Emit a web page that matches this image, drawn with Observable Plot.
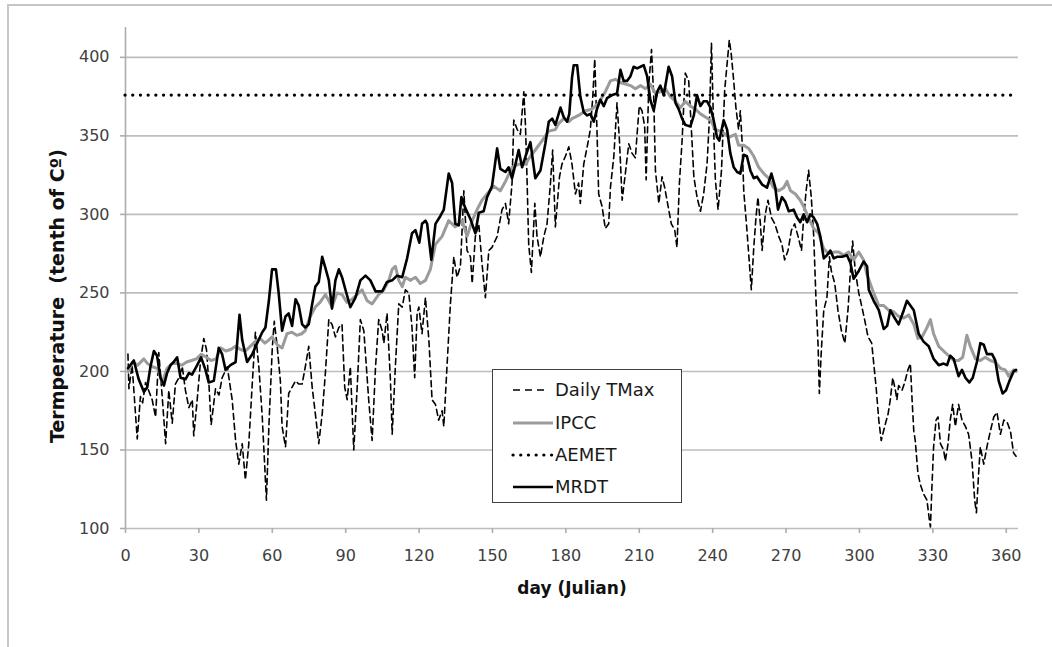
<!DOCTYPE html>
<html>
<head>
<meta charset="utf-8">
<script src="https://cdn.jsdelivr.net/npm/d3@7"></script>
<script src="https://cdn.jsdelivr.net/npm/@observablehq/plot@0.6"></script>
<style>
  body { margin: 0; background: #fff; }
  #wrap { position: relative; width: 1052px; height: 647px; overflow: hidden; background: #fff; font-family: "DejaVu Sans", sans-serif; }
  #frame { position: absolute; left: 7px; top: 4px; width: 1100px; height: 700px; border: 2px solid #c6c6c6; }
  #chart { position: absolute; left: 0; top: 0; }
  #legend { position: absolute; left: 492px; top: 369px; width: 188px; height: 132px; border: 1.5px solid #404040; background: #fff; }
</style>
</head>
<body>
<div id="wrap">
  <div id="frame"></div>
  <div id="chart"></div>
  <div id="legend"></div>
</div>
<script>
// ---- data (day, tenth of °C) ----
const xTicks = [0, 30, 60, 90, 120, 150, 180, 210, 240, 270, 300, 330, 360];
const yTicks = [100, 150, 200, 250, 300, 350, 400];
const xLabel = "day (Julian)";
const yLabel = "Termperature\u00a0\u00a0(tenth of Cº)";
const aemetValue = 376;

const tmaxPoints = [
[1,211],[1.4,189],[2.7,204],[4.8,157],[6.1,184],[7,180],[8.2,193],[10.9,182],[12.3,171],[13.6,212],
[15,184],[16.4,154],[17.7,188],[19.1,167],[20.4,192],[21.8,196],[23.2,203],[24.5,188],[25.9,177],[27.3,182],
[27.9,159],[29.3,182],[30.7,207],[32,221],[33.1,214],[34.1,192],[35,166],[36.8,189],[38.2,185],[39.5,196],
[41.6,203],[43.6,182],[45,156],[46.3,141],[47.7,154],[49,131],[50.4,154],[51.8,192],[53.1,225],[54.5,203],
[55.9,171],[56.8,143],[57.6,118],[58.6,165],[60,215],[60.8,232],[62,216],[63.3,194],[64,165],[65.4,152],
[66.7,186],[68.1,190],[69.5,194],[70.8,192],[72.2,192],[73.5,203],[74.9,216],[76.3,190],[77.6,173],[79,154],
[80.4,173],[81.7,199],[83.1,233],[84.4,230],[85.8,222],[87.2,228],[88.5,230],[89.6,190],[90.6,182],[91.9,203],
[93.3,150],[94.7,190],[96,233],[97.4,226],[98.1,211],[99.4,182],[100.8,156],[102.2,203],[103.5,233],[104.9,226],
[105.6,218],[106.9,237],[108.3,194],[109,160],[110.3,203],[111.7,243],[113.1,241],[114.4,252],[115.8,250],[117.1,228],
[118.2,196],[119.2,237],[119.9,241],[121.2,224],[122.6,247],[124,220],[125.3,182],[126.7,179],[128,169],[129.4,175],
[130.1,165],[131.4,203],[132.8,243],[134.2,273],[135.5,260],[136.9,267],[138.3,315],[139.6,277],[141,273],[141.7,256],
[143,286],[144.4,294],[145.7,269],[147.1,247],[148.5,277],[149.8,279],[151.9,286],[153.9,303],[155.3,307],[156.6,294],
[158,320],[158.7,360],[160.1,354],[161.4,351],[162.8,378],[163.5,356],[164.1,324],[164.8,281],[165.9,263],[167.3,307],
[168.2,286],[169.6,273],[171,286],[172.3,294],[173.7,320],[174.6,341],[175.7,292],[177.4,324],[178.4,332],[179.8,337],
[181.2,343],[182.5,332],[183.9,313],[185.2,320],[185.9,307],[187.3,332],[188.7,343],[190,354],[191,375],[191.8,399],
[192.7,354],[193.4,313],[194.8,305],[196.1,291],[197.5,294],[198.2,317],[199.6,337],[200.9,371],[201.9,347],[203,309],
[204.3,326],[205.7,345],[207,339],[208.4,336],[209.1,351],[210,369],[211.1,366],[212.2,356],[212.8,322],[213.9,383],
[215,405],[215.9,375],[216.6,328],[218,307],[219.3,324],[220.4,317],[221.8,305],[223.1,294],[224.5,290],[225.4,279],
[226.4,320],[227.5,347],[228.8,390],[230.2,385],[231.3,354],[232.3,324],[233.6,311],[235,302],[236.3,313],[237.7,332],
[238.7,362],[239.5,409],[240.4,354],[241.1,322],[242.2,303],[243.6,328],[244.9,379],[245.9,396],[246.8,411],[247.6,402],
[248.6,385],[249.5,368],[250.6,354],[251.3,366],[252,347],[252.7,315],[254,290],[255,269],[255.8,252],[256.8,279],
[257.7,298],[258.5,311],[259.5,294],[260.2,277],[261.5,300],[262.6,309],[264,298],[265.4,294],[267,286],[268.3,281],
[269.4,271],[270.8,277],[272.2,290],[273.5,294],[274.9,286],[276.3,277],[277.2,298],[278.2,315],[279.2,328],[280.3,311],
[281.3,286],[282.2,247],[283.1,216],[283.6,186],[284.4,213],[285.4,239],[286.7,247],[287.7,273],[288.5,264],[289.9,256],
[291.2,239],[292.6,226],[294,218],[295.3,239],[296.3,264],[297.2,283],[298.3,264],[299.7,250],[301,241],[302.1,233],
[303.5,222],[305,218],[306.8,190],[307.9,169],[308.9,156],[310.3,165],[311.7,173],[312.6,182],[313.6,196],[314.7,188],
[315.3,182],[316,191],[317.4,188],[318.5,193],[319.8,201],[320.8,205],[321.5,182],[322.2,162],[322.8,156],[323.9,135],
[324.9,128],[326.2,122],[327.6,118],[328.6,105],[329,101],[329.6,126],[330.3,152],[331.3,169],[332.1,171],[333.1,154],
[334.4,150],[335.1,143],[336.2,154],[337.1,169],[338.1,179],[339.2,165],[340.5,179],[341.9,169],[343.3,165],[344.6,160],
[346,143],[347.1,118],[347.8,110],[348.7,135],[349.4,152],[350.8,141],[352.1,152],[353.5,162],[354.9,171],[356.2,174],
[357.6,160],[359,169],[360.3,168],[361.7,162],[363,148],[364,146]
];

const ipccPoints = [
[1,200],[3,206],[5,204],[7.5,208],[9,205],[11,203],[13,202],[15,193],[17,202],[19,205],
[21,205],[23,204],[25,206],[27,207],[29,208],[31,211],[33,209],[35,207],[37,208],[39,215],
[41,213],[43,214],[45,216],[47,214],[49,213],[51,216],[53,219],[55,221],[57,218],[58.5,220],
[59.9,222],[62,217],[64,215],[66,224],[68,225],[70,223],[72,224],[73.5,226],[75.5,235],[77.6,241],
[79.5,244],[81.7,249],[83.8,243],[84.4,241],[86.5,250],[88.5,249],[90.5,244],[92.6,246],[94.7,249],[96.7,252],
[98.8,245],[100.8,243],[103.5,249],[105.6,252],[107.6,258],[109,265],[110.3,267],[111.7,258],[113.1,254],[114.4,260],
[116.5,258],[118.5,260],[120.5,256],[122.6,258],[124.6,265],[126.7,281],[129.4,286],[132.1,296],[134.8,292],[137.6,296],
[139.6,286],[141.7,296],[143.7,303],[145.7,309],[147.8,313],[150.5,318],[153.2,315],[155.3,321],[158,330],[160.7,332],
[163.5,332],[165.5,337],[167.5,341],[170.3,347],[173,353],[175.7,354],[177.1,358],[179.1,361],[181.2,359],[182.5,361],
[185.2,363],[188,366],[190.7,367],[193.4,371],[196.1,378],[198.2,385],[200.2,386],[202.3,384],[204.3,383],[206.4,382],
[208.4,380],[210.5,382],[212.5,380],[214.5,383],[216.6,377],[218.6,378],[220.7,380],[222.7,375],[224.8,372],[226.8,368],
[228.8,372],[230.9,369],[232.9,367],[235,364],[237,362],[239.1,360],[241.1,354],[243.2,353],[245.2,351],[246.5,349],
[249.3,351],[250.6,344],[252.7,344],[254.7,342],[256.8,337],[258.8,330],[260.9,326],[262.9,323],[264.9,317],[267,315],
[269,317],[270.4,321],[271.8,315],[273.8,313],[275.8,309],[277.2,305],[279.2,298],[281.3,291],[283.3,288],[285.4,278],
[287.4,275],[289.5,276],[291.5,276],[293.5,274],[295.6,276],[297.6,271],[299.7,276],[301.7,271],[303,262],[304.4,256],
[305.8,250],[307.9,242],[309.9,242],[311.9,239],[314,238],[316,235],[318.1,234],[320.1,236],[322.2,230],[323.9,221],
[325.6,222],[327.6,228],[329,233],[330.3,224],[332.4,216],[334.4,213],[336.5,210],[338.5,207],[340.5,207],[342.2,209],
[343.9,223],[345.3,216],[347.4,208],[349.4,207],[351.4,209],[353.5,207],[355.5,206],[357.6,202],[359.6,201],[361,197],
[363,201],[364,200]
];

const mrdtPoints = [
[1,202],[3.4,207],[5.4,195],[7.5,187],[8.9,190],[10.2,203],[11.6,213],[12.9,210],[14.3,196],[15.7,191],
[17,199],[18.4,204],[19.7,206],[21.1,209],[22.5,196],[24.5,195],[25.9,199],[27.2,198],[29.3,204],[30.9,209],
[32.7,201],[34,193],[36.1,194],[38.1,215],[39.5,211],[40.9,201],[42.9,204],[45,206],[46.6,236],[47.7,220],
[49.7,206],[51.8,211],[53.8,218],[55.9,225],[57.2,228],[58.6,245],[59.9,265],[61.5,265],[62.6,250],[64,226],
[65.4,235],[66.7,237],[68.1,229],[69.5,246],[70.8,242],[72.2,230],[73.5,228],[74.9,230],[76.3,243],[77.6,254],
[79,257],[80.4,273],[81.7,266],[83.1,258],[84.4,240],[85.8,258],[87.2,265],[88.5,260],[89.9,252],[91.9,241],
[94,247],[96,258],[98.1,261],[100.1,258],[102.2,251],[104.9,251],[106.9,257],[109,258],[111,261],[113.1,260],
[115.1,272],[117.1,288],[118.5,290],[120.1,282],[121.2,294],[122.6,296],[123.3,294],[125,271],[126.7,294],[128.7,299],
[130.1,303],[132.1,326],[133.5,320],[134.8,294],[136.2,293],[137.3,311],[138.9,304],[141,297],[143,288],[144.4,301],
[146.4,302],[147.8,311],[149.8,318],[151.9,342],[153.2,329],[155.3,327],[156.6,330],[158,323],[159.4,332],[160.7,341],
[162.1,330],[163.5,337],[165.5,346],[167.5,323],[169.6,328],[171.6,345],[173,359],[174.4,361],[175.7,357],[177.8,368],
[179.1,362],[180.5,359],[181.4,364],[182.5,387],[183.2,395],[184.6,395],[185.9,375],[187.3,365],[188.7,363],[190,364],
[191.4,359],[192.7,367],[194.1,373],[195.5,369],[196.8,374],[198.9,376],[200.9,377],[202.3,392],[203.6,385],[205,385],
[206.4,388],[207.7,394],[209.1,393],[210.5,394],[211.8,395],[213.2,388],[214.5,373],[215.9,366],[217.3,378],[218.6,382],
[220,376],[222,394],[223.4,388],[224.8,371],[226.1,367],[227.5,361],[228.8,357],[230.9,356],[232.3,363],[233.6,376],
[235,369],[236.3,372],[237.7,372],[239.1,368],[240.4,360],[241.8,349],[242.7,347],[244.5,360],[245.9,354],[247.2,339],
[248.6,330],[250,327],[251.3,326],[252.7,338],[254,337],[255.4,328],[256.8,323],[258.1,324],[260.2,319],[262.2,317],
[264,326],[265.6,317],[266.7,303],[268.3,311],[269.7,308],[271.1,302],[273.1,303],[274.5,298],[275.8,295],[277.2,300],
[278.6,295],[279.9,300],[281.3,298],[282.7,294],[284,286],[285.4,272],[286.7,274],[288.1,277],[289.5,272],[290.8,273],
[292.9,273],[294.9,274],[296.3,269],[297.6,259],[299.7,264],[301.7,270],[303.1,267],[303.8,252],[305.8,245],[307.9,239],
[309.9,227],[311.3,229],[312.6,239],[314,235],[316,230],[318.1,239],[319.4,245],[320.8,242],[322.2,239],[324.2,224],
[326.2,219],[328.3,216],[330.3,208],[332.4,204],[334.4,205],[335.8,204],[337.1,210],[338.5,208],[340.5,197],[341.9,201],
[343.3,196],[344.9,193],[346.3,196],[348,206],[349.4,218],[350.8,217],[352.1,211],[354.2,211],[355.5,207],[356.9,194],
[358.5,186],[359.9,188],[361.3,194],[363,200],[364,201]
];

const seriesNames = ["Daily TMax", "IPCC", "AEMET", "MRDT"];

// ---- styles ----
const styleTMax = {stroke: "#000", strokeWidth: 1.6, strokeDasharray: "6,4"};
const styleIPCC = {stroke: "#9b9b9b", strokeWidth: 3};
const styleAEMET = {stroke: "#000", strokeWidth: 3.2, strokeDasharray: "0.1,7.6", strokeLinecap: "round"};
const styleMRDT = {stroke: "#000", strokeWidth: 2.6};

const toRows = pts => pts.map(([day, value]) => ({day, value}));

const chart = Plot.plot({
  width: 1052,
  height: 647,
  marginLeft: 125,
  marginRight: 34,
  marginTop: 27,
  marginBottom: 119,
  x: {domain: [0, 365]},
  y: {domain: [100, 419]},
  style: {fontFamily: "DejaVu Sans", fontSize: "16px", color: "#404040", background: "transparent", overflow: "visible"},
  marks: [
    Plot.ruleY(yTicks, {stroke: "#bdbdbd", strokeWidth: 1.6}),
    Plot.ruleX([0], {stroke: "#adadad", strokeWidth: 1.6}),
    Plot.axisX({ticks: xTicks, tickSize: 5, tickPadding: 16, stroke: "#adadad", strokeWidth: 1.6, label: null, tickFormat: d => String(d)}),
    Plot.axisY({ticks: yTicks, tickSize: 5, tickPadding: 11, stroke: "#adadad", strokeWidth: 1.6, label: null, tickFormat: d => String(d)}),
    Plot.line(toRows(tmaxPoints), {x: "day", y: "value", ...styleTMax}),
    Plot.line(toRows(ipccPoints), {x: "day", y: "value", ...styleIPCC, strokeLinejoin: "round"}),
    Plot.ruleY([aemetValue], styleAEMET),
    Plot.line(toRows(mrdtPoints), {x: "day", y: "value", ...styleMRDT, strokeLinejoin: "round"}),
    Plot.text([xLabel], {frameAnchor: "bottom", dy: 60, lineAnchor: "middle", fontWeight: "bold", fontSize: 17, fill: "#111"}),
    Plot.text([yLabel], {frameAnchor: "left", textAnchor: "middle", dx: -68, dy: 18, rotate: -90, lineAnchor: "middle", fontWeight: "bold", fontSize: 19, fill: "#111"})
  ]
});
document.getElementById("chart").appendChild(chart);

// ---- legend ----
const legendStyles = [styleTMax, styleIPCC, styleAEMET, styleMRDT];
const lg = d3.select("#legend").append("svg").attr("width", 188).attr("height", 132);
const rowY = [20, 53, 85, 117];
seriesNames.forEach((name, i) => {
  const s = legendStyles[i];
  const x2 = i === 0 ? 56 : 60;
  lg.append("line")
    .attr("x1", 20).attr("x2", x2).attr("y1", rowY[i]).attr("y2", rowY[i])
    .attr("stroke", s.stroke).attr("stroke-width", s.strokeWidth)
    .attr("stroke-dasharray", i === 0 ? "7,5" : (s.strokeDasharray || null))
    .attr("stroke-linecap", s.strokeLinecap || "butt");
  lg.append("text")
    .attr("x", 62).attr("y", rowY[i]).attr("dy", "0.36em")
    .attr("font-family", "DejaVu Sans").attr("font-size", 18).attr("fill", "#1a1a1a")
    .text(name);
});
</script>
</body>
</html>
